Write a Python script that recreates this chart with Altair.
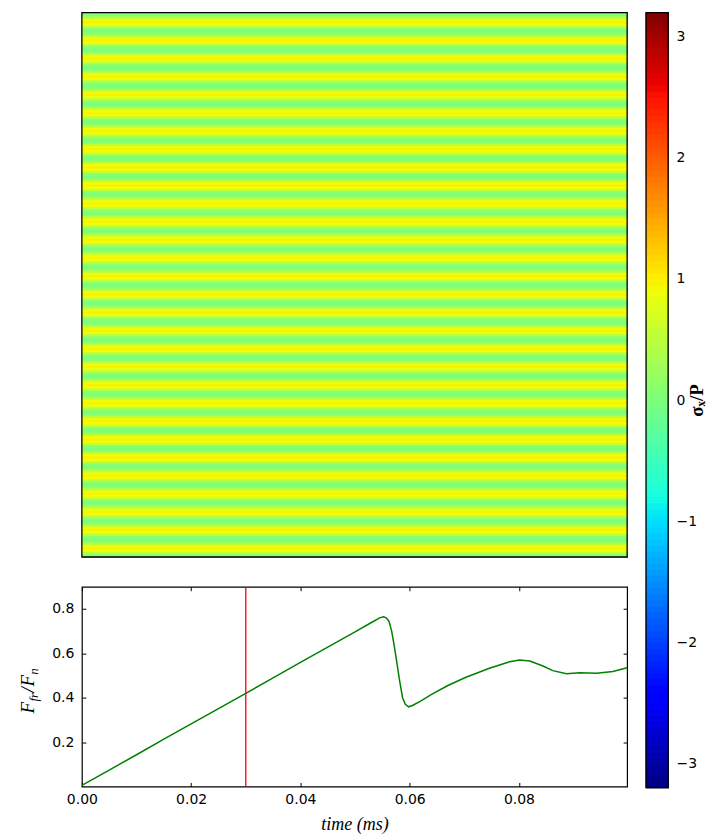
import altair as alt
import numpy as np
import pandas as pd

# ---------------- data ----------------
# one period of the horizontal stripe pattern (sigma_x/P), top to bottom
stripe_profile = [-0.02, 0.12, 0.50, 0.88, 0.98, 0.88, 0.50, 0.12]
n_stripes = 30

time_ms = [0.0, 0.005, 0.010, 0.015, 0.020, 0.025, 0.030, 0.035, 0.040, 0.045,
           0.050, 0.053, 0.0545, 0.0552, 0.0557, 0.0562, 0.0567, 0.0572, 0.0577,
           0.0582, 0.0587, 0.0592, 0.0598, 0.0605, 0.0620, 0.0640, 0.0670, 0.0703,
           0.0746, 0.0783, 0.0801, 0.0820, 0.0844, 0.0862, 0.0887, 0.0911, 0.0942,
           0.0972, 0.0998]
friction_ratio = [0.005, 0.074, 0.143, 0.213, 0.282, 0.351, 0.420, 0.489, 0.559, 0.628,
                  0.697, 0.739, 0.760, 0.765, 0.760, 0.745, 0.700, 0.630, 0.550,
                  0.470, 0.400, 0.370, 0.359, 0.365, 0.385, 0.415, 0.455, 0.492,
                  0.533, 0.562, 0.570, 0.565, 0.543, 0.522, 0.508, 0.513, 0.510,
                  0.518, 0.535]
snapshot_time = [0.03]

x_ticks = [0.0, 0.02, 0.04, 0.06, 0.08]
y_ticks = [0.2, 0.4, 0.6, 0.8]
cbar_ticks = [-3, -2, -1, 0, 1, 2, 3]
cbar_range = [-3.2, 3.2]

# jet colormap breakpoints
jet_stops = [0.0, 0.11, 0.125, 0.34, 0.35, 0.375, 0.64, 0.65, 0.66, 0.89, 0.91, 1.0]
jet_colors = ["#000080", "#0000ff", "#0000ff", "#00dbff", "#00e6f7", "#15ffe2",
              "#efff08", "#f7f500", "#ffec00", "#ff1300", "#e80000", "#800000"]

# ---------------- sizes ----------------
HW, HH = 546, 545
LW, LH = 546, 200
CW, CH = 22, 776

cmin, cmax = cbar_range
jet_domain = [cmin + (cmax - cmin) * s for s in jet_stops]
jet = alt.Scale(domain=jet_domain, range=jet_colors, interpolate="rgb", clamp=True)

# ---------------- heatmap ----------------
heat_rows = stripe_profile * n_stripes
n_rows = len(heat_rows)
heat_df = pd.DataFrame({"r0": list(range(n_rows)),
                        "r1": [i + 1 for i in range(n_rows)],
                        "v": heat_rows})
heat_y = alt.Y("r0:Q", scale=alt.Scale(domain=[0, n_rows], reverse=True, nice=False, zero=False), axis=None)
heat = alt.Chart(heat_df).mark_rect(strokeWidth=1).encode(
    x=alt.value(0), x2=alt.value(HW), y=heat_y, y2="r1:Q",
    fill=alt.Fill("v:Q", scale=jet, legend=None),
    stroke=alt.Stroke("v:Q", scale=jet, legend=None),
)
heat_frame = alt.Chart(pd.DataFrame({"a": [0]})).mark_rect(
    fill="transparent", stroke="black", strokeWidth=1.2
).encode(x=alt.value(0), x2=alt.value(HW), y=alt.value(0), y2=alt.value(HH))
heat_chart = alt.layer(heat, heat_frame).properties(width=HW, height=HH)

# ---------------- line chart ----------------
line_df = pd.DataFrame({"t": time_ms, "f": friction_ratio})
x_scale = alt.Scale(domain=[0, 0.0998], nice=False, zero=False)
y_scale = alt.Scale(domain=[0, 0.9], nice=False, zero=False)
xaxis = alt.Axis(orient="bottom", values=x_ticks, format=".2f", title="time (ms)", offset=-4,
                 tickSize=4, labelPadding=6, labelFlush=False, titleFont="Liberation Serif",
                 titleFontStyle="italic", titleFontWeight="normal", titleFontSize=18,
                 titlePadding=9, titleColor="black")
yaxis = alt.Axis(orient="left", values=y_ticks, format=".1f", title=None, offset=-4,
                 tickSize=4, labelPadding=8, labelFlush=False)

line = alt.Chart(line_df).mark_line(color="#008000", strokeWidth=1.5).encode(
    x=alt.X("t:Q", scale=x_scale, axis=xaxis),
    y=alt.Y("f:Q", scale=y_scale, axis=yaxis),
)
mirror = alt.Chart(line_df).mark_line(opacity=0).encode(
    x=alt.X("t:Q", scale=x_scale, axis=alt.Axis(orient="top", values=x_ticks, labels=False,
                                                 title=None, offset=-4, tickSize=4)),
    y=alt.Y("f:Q", scale=y_scale, axis=alt.Axis(orient="right", values=y_ticks, labels=False,
                                                 title=None, offset=-4, tickSize=4)),
)
marker = alt.Chart(pd.DataFrame({"t": snapshot_time})).mark_rule(
    color="#ff0000", strokeWidth=1.3
).encode(x=alt.X("t:Q", scale=x_scale, axis=None))


def label_part(txt, x, y, size):
    return alt.Chart(pd.DataFrame({"s": [txt]})).mark_text(
        angle=270, align="left", baseline="alphabetic", font="Liberation Serif",
        fontStyle="italic", fontSize=size, color="black"
    ).encode(text="s:N", x=alt.value(x), y=alt.value(y))


ytitle = [
    label_part("F", -48, 127, 19),
    label_part("fr", -44, 115, 13),
    label_part("/", -48, 106, 19),
    label_part("F", -48, 100, 19),
    label_part("n", -44, 88, 13),
]
line_chart = alt.layer(line, mirror, marker, *ytitle).resolve_axis(
    x="independent", y="independent"
).properties(width=LW, height=LH)

# ---------------- colorbar ----------------
edges = np.linspace(cmin, cmax, 129)
cbar_df = pd.DataFrame({"lo": edges[:-1], "hi": edges[1:], "mid": (edges[:-1] + edges[1:]) / 2})
cbar_y = alt.Y("lo:Q", scale=alt.Scale(domain=cbar_range, nice=False, zero=False),
               axis=alt.Axis(orient="right", values=cbar_ticks, format="d", offset=-4,
                             tickSize=4, labelPadding=8, labelFlush=False,
                             title="σₓ/P", titleAngle=270, titleFont="Liberation Serif",
                             titleFontWeight="bold", titleFontSize=19, titlePadding=10,
                             titleColor="black"))
cbar = alt.Chart(cbar_df).mark_rect(strokeWidth=1).encode(
    x=alt.value(0), x2=alt.value(CW), y=cbar_y, y2="hi:Q",
    fill=alt.Fill("mid:Q", scale=jet, legend=None),
    stroke=alt.Stroke("mid:Q", scale=jet, legend=None),
)
cbar_frame = alt.Chart(pd.DataFrame({"a": [0]})).mark_rect(
    fill="transparent", stroke="black", strokeWidth=1.2
).encode(x=alt.value(0), x2=alt.value(CW), y=alt.value(0), y2=alt.value(CH))
cbar_chart = alt.layer(cbar, cbar_frame).properties(width=CW, height=CH)

left_col = alt.vconcat(heat_chart, line_chart, spacing=30, bounds="flush")
chart = alt.hconcat(left_col, cbar_chart, spacing=13).properties(
    padding={"left": 10, "top": 2, "right": 0, "bottom": 0}
).configure_view(stroke="black", strokeWidth=1.2).configure_axis(
    labelFont="DejaVu Sans", labelFontSize=14, labelColor="black",
    tickColor="black", domain=False, grid=False
)

chart.save("out.html", embed_options={"renderer": "svg", "actions": False})
